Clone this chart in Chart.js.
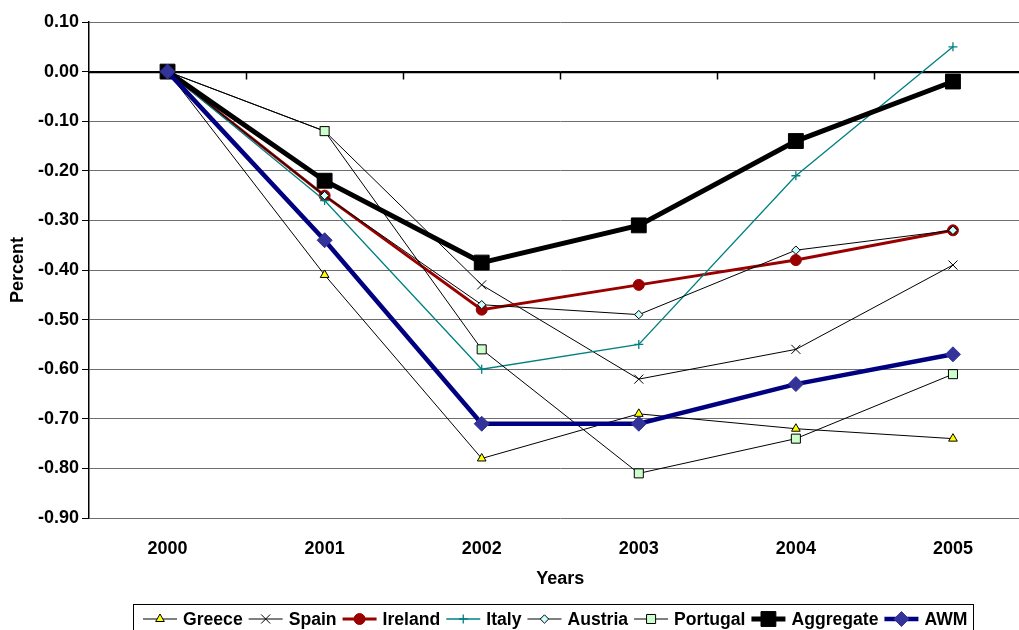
<!DOCTYPE html>
<html>
<head>
<meta charset="utf-8">
<title>Percent deviation by country, 2000–2005</title>
<script src="https://cdn.jsdelivr.net/npm/chart.js@4/dist/chart.umd.min.js"></script>
<style>
  html, body { margin: 0; padding: 0; background: #fff; overflow: hidden; }
  #wrap { width: 1019px; height: 630px; overflow: hidden; }
  canvas { display: block; }
</style>
</head>
<body>
<div id="wrap"><canvas id="c" width="1043" height="630"></canvas></div>
<script>
// Categories and series values (percent)
const years = ['2000', '2001', '2002', '2003', '2004', '2005'];
const greece    = [0, -0.41, -0.78, -0.69, -0.72, -0.74];
const spain     = [0, -0.12, -0.43, -0.62, -0.56, -0.39];
const ireland   = [0, -0.25, -0.48, -0.43, -0.38, -0.32];
const italy     = [0, -0.26, -0.60, -0.55, -0.21, 0.05];
const austria   = [0, -0.25, -0.47, -0.49, -0.36, -0.32];
const portugal  = [0, -0.12, -0.56, -0.81, -0.74, -0.61];
const aggregate = [0, -0.22, -0.385, -0.31, -0.14, -0.02];
const awm       = [0, -0.34, -0.71, -0.71, -0.63, -0.57];

// Y tick values
const yTicks = [0.10, 0.00, -0.10, -0.20, -0.30, -0.40, -0.50, -0.60, -0.70, -0.80, -0.90];

const FONT = "'Liberation Sans', Arial, sans-serif";

function series(label, data, st, z) {
  return Object.assign({
    label, data, order: z, tension: 0, fill: false,
    pointHoverRadius: st.pointRadius
  }, st);
}

const datasets = [
  series('Greece', greece, { borderColor: '#000', borderWidth: 1, pointStyle: 'triangle', pointRadius: 5, pointBackgroundColor: '#ffff00', pointBorderColor: '#000', pointBorderWidth: 1 }, 8),
  series('Spain', spain, { borderColor: '#000', borderWidth: 1, pointStyle: 'crossRot', pointRadius: 6.4, pointBackgroundColor: '#000', pointBorderColor: '#000', pointBorderWidth: 1 }, 7),
  series('Ireland', ireland, { borderColor: '#990000', borderWidth: 3, pointStyle: 'circle', pointRadius: 5.5, pointBackgroundColor: '#990000', pointBorderColor: '#990000', pointBorderWidth: 1 }, 6),
  series('Italy', italy, { borderColor: '#008080', borderWidth: 1.3, pointStyle: 'cross', pointRadius: 4.5, pointBackgroundColor: '#008080', pointBorderColor: '#008080', pointBorderWidth: 1.3 }, 5),
  series('Austria', austria, { borderColor: '#000', borderWidth: 1, pointStyle: 'rectRot', pointRadius: 4.2, pointBackgroundColor: '#ccffff', pointBorderColor: '#000', pointBorderWidth: 1 }, 4),
  series('Portugal', portugal, { borderColor: '#000', borderWidth: 1, pointStyle: 'rect', pointRadius: 6.4, pointBackgroundColor: '#ccffcc', pointBorderColor: '#000', pointBorderWidth: 1 }, 3),
  series('Aggregate', aggregate, { borderColor: '#000', borderWidth: 5, pointStyle: 'rect', pointRadius: 10.5, pointBackgroundColor: '#000', pointBorderColor: '#000', pointBorderWidth: 1 }, 2),
  series('AWM', awm, { borderColor: '#000080', borderWidth: 4.5, pointStyle: 'rectRot', pointRadius: 7.5, pointBackgroundColor: '#333399', pointBorderColor: '#333399', pointBorderWidth: 1 }, 1)
];

// Zero line with category tick marks (the category axis crosses at 0)
const zeroAxis = {
  id: 'zeroAxis',
  beforeDatasetsDraw(chart) {
    const { ctx, chartArea } = chart;
    const x = chart.scales.x, y = chart.scales.y;
    const y0 = Math.round(y.getPixelForValue(0)) + 0.5;
    ctx.save();
    ctx.strokeStyle = '#000';
    ctx.lineWidth = 1.5;
    ctx.beginPath();
    ctx.moveTo(chartArea.left, y0);
    ctx.lineTo(chartArea.right, y0);
    ctx.stroke();
    const half = (x.getPixelForValue(1) - x.getPixelForValue(0)) / 2;
    for (let i = 0; i < years.length; i++) {
      const px = Math.round(x.getPixelForValue(i) + half) + 0.5;
      ctx.beginPath();
      ctx.moveTo(px, y0);
      ctx.lineTo(px, y0 + 7);
      ctx.stroke();
    }
    ctx.restore();
  }
};

// Boxed legend with line + marker samples
const boxLegend = {
  id: 'boxLegend',
  afterDraw(chart) {
    const { ctx } = chart;
    ctx.save();
    ctx.font = 'bold 17.6px ' + FONT;
    const sample = 34, gapIn = 6, gapOut = 6;
    let x = 143;
    const cy = 619;
    const dp = Chart.helpers && Chart.helpers.drawPoint;
    chart.data.datasets.forEach(ds => {
      ctx.strokeStyle = ds.borderColor;
      ctx.lineWidth = ds.borderWidth;
      ctx.beginPath();
      ctx.moveTo(x, cy);
      ctx.lineTo(x + sample, cy);
      ctx.stroke();
      if (dp) {
        ctx.fillStyle = ds.pointBackgroundColor;
        ctx.strokeStyle = ds.pointBorderColor;
        ctx.lineWidth = ds.pointBorderWidth;
        dp(ctx, { pointStyle: ds.pointStyle, radius: ds.pointRadius, rotation: 0, borderWidth: ds.pointBorderWidth }, x + sample / 2, cy);
      }
      x += sample + gapIn;
      ctx.fillStyle = '#000';
      ctx.textBaseline = 'middle';
      ctx.textAlign = 'left';
      ctx.fillText(ds.label, x, cy + 1);
      x += ctx.measureText(ds.label).width + gapOut;
    });
    ctx.strokeStyle = '#000';
    ctx.lineWidth = 1;
    ctx.strokeRect(133.5, 604.5, Math.round(x - 133), 40);
    ctx.restore();
  }
};

new Chart(document.getElementById('c'), {
  type: 'line',
  data: { labels: years, datasets },
  options: {
    responsive: false,
    animation: false,
    devicePixelRatio: 1,
    layout: { padding: { top: 22, right: 2, left: 0, bottom: 0 } },
    plugins: { legend: { display: false }, tooltip: { enabled: false } },
    scales: {
      x: {
        type: 'category',
        offset: true,
        grid: { display: false },
        border: { display: false },
        ticks: {
          color: '#000', padding: 12, maxRotation: 0,
          font: { family: FONT, size: 18, weight: 'bold' }
        },
        title: {
          display: true, text: 'Years', color: '#000',
          font: { family: FONT, size: 18, weight: 'bold' },
          padding: { top: 0, bottom: 40 }
        },
        afterFit(scale) { scale.height = 112; }
      },
      y: {
        min: -0.9, max: 0.1,
        afterBuildTicks(scale) { scale.ticks = yTicks.map(v => ({ value: v })); },
        grid: {
          color: ctx => (ctx.tick && Math.abs(ctx.tick.value) < 1e-9) ? '#000' : '#6e6e6e',
          lineWidth: 1,
          tickColor: '#000',
          tickLength: 7,
          drawTicks: true
        },
        border: { display: true, color: '#000', width: 1.5 },
        ticks: {
          color: '#000', padding: 3,
          font: { family: FONT, size: 18, weight: 'bold' },
          callback: v => Number(v).toFixed(2)
        },
        title: {
          display: true, text: 'Percent', color: '#000',
          font: { family: FONT, size: 18, weight: 'bold' },
          padding: { top: 7, bottom: 0 }
        },
        afterFit(scale) { scale.width = 89; }
      }
    }
  },
  plugins: [zeroAxis, boxLegend]
});
</script>
</body>
</html>
